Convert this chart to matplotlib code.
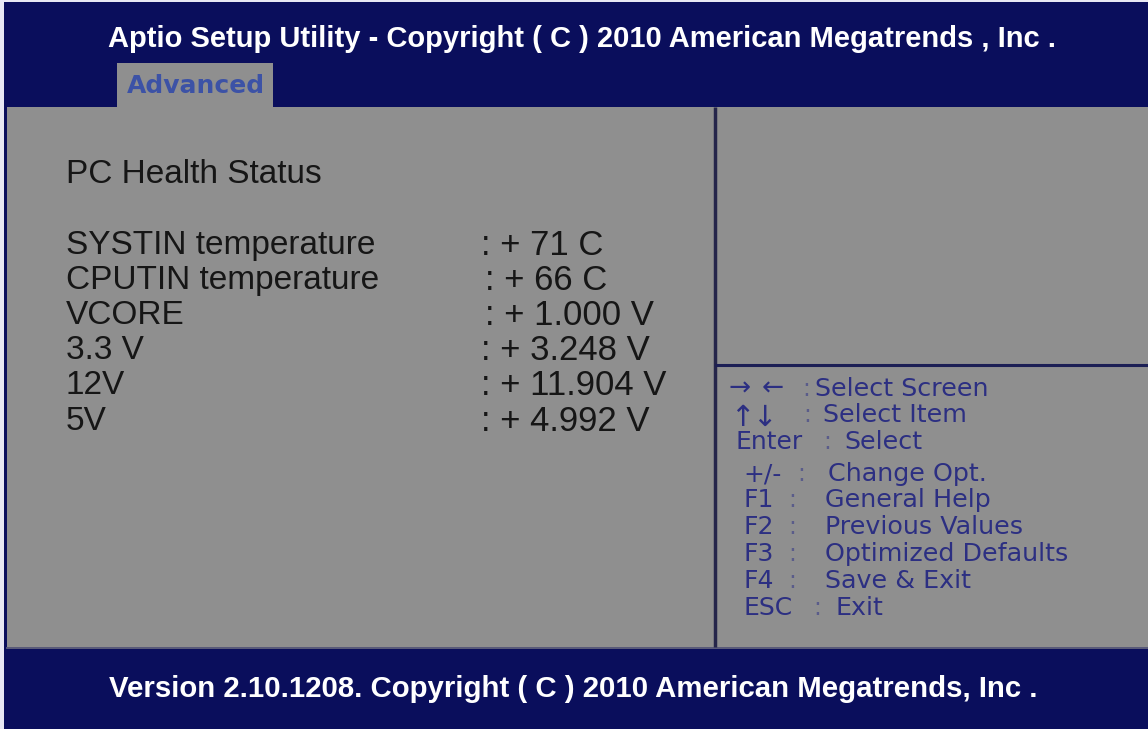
import matplotlib
matplotlib.use("Agg")
import matplotlib.pyplot as plt
from matplotlib.patches import Rectangle

# ---- data ----
title_text = "Aptio Setup Utility - Copyright ( C ) 2010 American Megatrends , Inc ."
tab_label = "Advanced"
section_title = "PC Health Status"
item_labels = ["SYSTIN temperature", "CPUTIN temperature", "VCORE", "3.3 V", "12V", "5V"]
item_values = [": + 71 C", ": + 66 C", ": + 1.000 V", ": + 3.248 V", ": + 11.904 V", ": + 4.992 V"]
help_keys = ["\u2192 \u2190", "\u2191 \u2193", "Enter", "+/-", "F1", "F2", "F3", "F4", "ESC"]
help_descs = ["Select Screen", "Select Item", "Select", "Change Opt.", "General Help",
              "Previous Values", "Optimized Defaults", "Save & Exit", "Exit"]
footer_text = "Version 2.10.1208. Copyright ( C ) 2010 American Megatrends, Inc ."

# ---- style ----
NAVY = "#0a0e5c"
GRAY = "#8f8f8f"
DARK = "#161616"
HELP = "#2c2f82"
TAB_TXT = "#3c52a6"
W, H = 1148, 729

fig = plt.figure(figsize=(W / 100, H / 100), dpi=100)
ax = fig.add_axes([0, 0, 1, 1])
ax.set_xlim(0, W)
ax.set_ylim(H, 0)
ax.axis("off")
fig.patch.set_facecolor("#e8e8f4")

# background blocks
ax.add_patch(Rectangle((4, 2), W - 4, 105, color=NAVY, lw=0))
ax.add_patch(Rectangle((4, 107), W - 4, 541, color=NAVY, lw=0))
ax.add_patch(Rectangle((7, 107), W - 7, 540, color=GRAY, lw=0))
ax.add_patch(Rectangle((4, 648), W - 4, H - 648, color=NAVY, lw=0))
ax.plot([7, W], [647.5, 647.5], color="#6a6a80", lw=1.2)

# tab
ax.add_patch(Rectangle((117, 63), 156, 45, color=GRAY, lw=0))

# dividers
ax.plot([715, 715], [107, 647], color="#25254a", lw=2.5, solid_capstyle="butt")
ax.plot([715, W], [365, 365], color="#1c1f55", lw=2.2, solid_capstyle="butt")

# title / footer
ax.text(582, 39, title_text, color="white", fontsize=21, fontweight="bold",
        family="Liberation Sans", ha="center", va="center")
ax.text(573, 689, footer_text, color="white", fontsize=21.2, fontweight="bold",
        family="Liberation Sans", ha="center", va="center")
ax.text(195.5, 86, tab_label, color=TAB_TXT, fontsize=18, fontweight="bold",
        family="DejaVu Sans", ha="center", va="center")

# left panel
ax.text(66, 174, section_title, color=DARK, fontsize=24, family="Liberation Sans",
        ha="left", va="center")
val_x = [481, 485, 485, 481, 481, 481]
for i, (lab, val) in enumerate(zip(item_labels, item_values)):
    y = 245 + i * 35.2
    ax.text(66, y, lab, color=DARK, fontsize=24, family="Liberation Sans",
            ha="left", va="center")
    ax.text(val_x[i], y, val, color=DARK, fontsize=25, family="Liberation Sans",
            ha="left", va="center")

# right help panel
help_y = [389, 415, 442, 474, 500, 527, 554, 581, 608]
key_x = [None, None, 736, 743, 743, 743, 743, 743, 743]
arrow_x = {0: (740, 773), 1: (742, 764)}
arrow_fs = {0: 19, 1: 21}
colon_x = [802, 803, 823, 797, 788, 788, 788, 788, 813]
desc_x = [815, 823, 844, 828, 825, 825, 825, 825, 835]
for i, (k, d) in enumerate(zip(help_keys, help_descs)):
    y = help_y[i]
    if i in arrow_x:
        for glyph, gx in zip(k.split(" "), arrow_x[i]):
            ax.text(gx, y + (3 if i == 1 else 0), glyph, color=HELP, fontsize=arrow_fs[i],
                    family="DejaVu Sans", ha="center", va="center")
    else:
        ax.text(key_x[i], y, k, color=HELP, fontsize=18, family="DejaVu Sans",
                ha="left", va="center")
    ax.text(colon_x[i], y, ":", color="#5a5c8a", fontsize=17, family="DejaVu Sans",
            ha="left", va="center")
    ax.text(desc_x[i], y, d, color=HELP, fontsize=18.3, family="DejaVu Sans",
            ha="left", va="center")

fig.savefig("out.png", dpi=100, facecolor=fig.get_facecolor())
